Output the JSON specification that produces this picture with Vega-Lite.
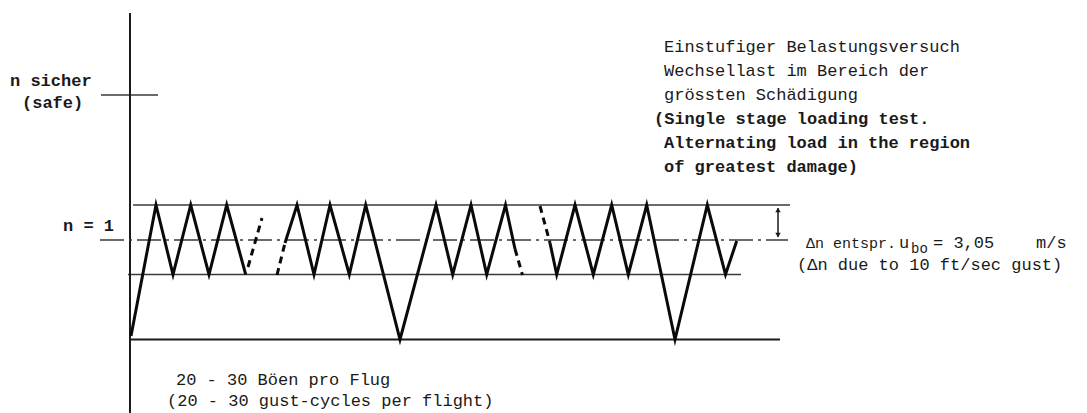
{
  "$schema": "https://vega.github.io/schema/vega-lite/v6.json",
  "width": 1087,
  "height": 413,
  "padding": 0,
  "autosize": {"type": "none"},
  "background": "white",
  "config": {"view": {"stroke": null}},
  "datasets": {
    "segs": [
      {"kind": "heavy", "x": 130, "y": 13, "x2": 130, "y2": 413},
      {"kind": "heavy", "x": 130, "y": 339.5, "x2": 780, "y2": 339.5},
      {"kind": "light", "x": 101, "y": 95, "x2": 158, "y2": 95},
      {"kind": "light", "x": 133, "y": 205, "x2": 790, "y2": 205},
      {"kind": "light", "x": 128, "y": 274.5, "x2": 741, "y2": 274.5},
      {"kind": "dashdot", "x": 100, "y": 240, "x2": 788, "y2": 240},
      {"kind": "dashed", "x": 248, "y": 267, "x2": 262, "y2": 218},
      {"kind": "dashed", "x": 277, "y": 275, "x2": 285, "y2": 243},
      {"kind": "dashed", "x": 515, "y": 249, "x2": 522.5, "y2": 275},
      {"kind": "dashed", "x": 540, "y": 206, "x2": 550, "y2": 243},
      {"kind": "arrow", "x": 778, "y": 208, "x2": 778, "y2": 237}
    ],
    "wave": [
      {"seg": "A", "i": 0, "x": 131, "y": 336},
      {"seg": "A", "i": 1, "x": 156, "y": 205},
      {"seg": "A", "i": 2, "x": 173, "y": 274.5},
      {"seg": "A", "i": 3, "x": 190.7, "y": 205},
      {"seg": "A", "i": 4, "x": 209, "y": 274.5},
      {"seg": "A", "i": 5, "x": 226.7, "y": 205},
      {"seg": "A", "i": 6, "x": 245.7, "y": 274.5},
      {"seg": "C", "i": 0, "x": 285, "y": 243},
      {"seg": "C", "i": 1, "x": 297, "y": 205},
      {"seg": "C", "i": 2, "x": 314, "y": 274.5},
      {"seg": "C", "i": 3, "x": 330, "y": 205},
      {"seg": "C", "i": 4, "x": 349.3, "y": 274.5},
      {"seg": "C", "i": 5, "x": 365.7, "y": 205},
      {"seg": "C", "i": 6, "x": 400, "y": 339.5},
      {"seg": "C", "i": 7, "x": 436, "y": 205},
      {"seg": "C", "i": 8, "x": 452.7, "y": 274.5},
      {"seg": "C", "i": 9, "x": 471, "y": 205},
      {"seg": "C", "i": 10, "x": 486.7, "y": 274.5},
      {"seg": "C", "i": 11, "x": 505.5, "y": 205},
      {"seg": "C", "i": 12, "x": 515, "y": 249},
      {"seg": "E", "i": 0, "x": 550, "y": 243},
      {"seg": "E", "i": 1, "x": 556.7, "y": 274.5},
      {"seg": "E", "i": 2, "x": 575, "y": 205},
      {"seg": "E", "i": 3, "x": 593.3, "y": 274.5},
      {"seg": "E", "i": 4, "x": 611.7, "y": 205},
      {"seg": "E", "i": 5, "x": 628.3, "y": 274.5},
      {"seg": "E", "i": 6, "x": 646.7, "y": 205},
      {"seg": "E", "i": 7, "x": 675, "y": 339.5},
      {"seg": "E", "i": 8, "x": 707.3, "y": 205},
      {"seg": "E", "i": 9, "x": 725.5, "y": 274.5},
      {"seg": "E", "i": 10, "x": 736.7, "y": 241}
    ],
    "heads": [
      {"dir": "up", "x": 778, "y": 210},
      {"dir": "down", "x": 778, "y": 235}
    ],
    "labels": [
      {"style": "bold", "x": 10, "y": 86, "text": "n sicher"},
      {"style": "bold", "x": 22, "y": 108, "text": "(safe)"},
      {"style": "bold", "x": 63, "y": 231, "text": "n = 1"},
      {"style": "normal", "x": 664, "y": 52, "text": "Einstufiger Belastungsversuch"},
      {"style": "normal", "x": 664, "y": 76, "text": "Wechsellast im Bereich der"},
      {"style": "normal", "x": 664, "y": 100, "text": "grössten Schädigung"},
      {"style": "bold", "x": 654, "y": 124, "text": "(Single stage loading test."},
      {"style": "bold", "x": 664, "y": 148, "text": "Alternating load in the region"},
      {"style": "bold", "x": 664, "y": 172, "text": "of greatest damage)"},
      {"style": "small", "x": 806, "y": 248, "text": "Δn entspr."},
      {"style": "normal", "x": 899, "y": 248, "text": "u"},
      {"style": "sub", "x": 911, "y": 253, "text": "bo"},
      {"style": "normal", "x": 933, "y": 248, "text": "= 3,05"},
      {"style": "normal", "x": 1036, "y": 248, "text": "m/s"},
      {"style": "normal", "x": 797, "y": 270, "text": "(Δn due to 10 ft/sec gust)"},
      {"style": "normal", "x": 176, "y": 385, "text": "20 - 30 Böen pro Flug"},
      {"style": "normal", "x": 167, "y": 406, "text": "(20 - 30 gust-cycles per flight)"}
    ]
  },
  "encoding": {
    "x": {"field": "x", "type": "quantitative", "scale": {"domain": [0, 1087], "nice": false, "zero": false}, "axis": null},
    "y": {"field": "y", "type": "quantitative", "scale": {"domain": [413, 0], "nice": false, "zero": false}, "axis": null}
  },
  "layer": [
    {
      "data": {"name": "segs"},
      "transform": [{"filter": "datum.kind === 'light'"}],
      "mark": {"type": "rule", "color": "#3a3a3a", "strokeWidth": 1.5},
      "encoding": {"x2": {"field": "x2"}, "y2": {"field": "y2"}}
    },
    {
      "data": {"name": "segs"},
      "transform": [{"filter": "datum.kind === 'heavy'"}],
      "mark": {"type": "rule", "color": "#1a1a1a", "strokeWidth": 2},
      "encoding": {"x2": {"field": "x2"}, "y2": {"field": "y2"}}
    },
    {
      "data": {"name": "segs"},
      "transform": [{"filter": "datum.kind === 'dashdot'"}],
      "mark": {"type": "rule", "color": "#3a3a3a", "strokeWidth": 1.5, "strokeDash": [24, 5, 3, 5]},
      "encoding": {"x2": {"field": "x2"}, "y2": {"field": "y2"}}
    },
    {
      "data": {"name": "wave"},
      "mark": {"type": "line", "color": "#0a0a0a", "strokeWidth": 3, "strokeJoin": "miter", "strokeMiterLimit": 10},
      "encoding": {
        "detail": {"field": "seg", "type": "nominal"},
        "order": {"field": "i", "type": "quantitative"}
      }
    },
    {
      "data": {"name": "segs"},
      "transform": [{"filter": "datum.kind === 'dashed'"}],
      "mark": {"type": "rule", "color": "#0a0a0a", "strokeWidth": 3, "strokeDash": [7, 5]},
      "encoding": {"x2": {"field": "x2"}, "y2": {"field": "y2"}}
    },
    {
      "data": {"name": "segs"},
      "transform": [{"filter": "datum.kind === 'arrow'"}],
      "mark": {"type": "rule", "color": "#1a1a1a", "strokeWidth": 1.5},
      "encoding": {"x2": {"field": "x2"}, "y2": {"field": "y2"}}
    },
    {
      "data": {"name": "heads"},
      "transform": [{"filter": "datum.dir === 'up'"}],
      "mark": {"type": "point", "shape": "triangle-up", "filled": true, "color": "#1a1a1a", "size": 30, "opacity": 1}
    },
    {
      "data": {"name": "heads"},
      "transform": [{"filter": "datum.dir === 'down'"}],
      "mark": {"type": "point", "shape": "triangle-down", "filled": true, "color": "#1a1a1a", "size": 30, "opacity": 1}
    },
    {
      "data": {"name": "labels"},
      "transform": [{"filter": "datum.style === 'normal'"}],
      "mark": {"type": "text", "align": "left", "baseline": "alphabetic", "font": "Liberation Mono", "fontSize": 17, "color": "#1a1a1a"},
      "encoding": {"text": {"field": "text", "type": "nominal"}}
    },
    {
      "data": {"name": "labels"},
      "transform": [{"filter": "datum.style === 'small'"}],
      "mark": {"type": "text", "align": "left", "baseline": "alphabetic", "font": "Liberation Mono", "fontSize": 15, "color": "#1a1a1a"},
      "encoding": {"text": {"field": "text", "type": "nominal"}}
    },
    {
      "data": {"name": "labels"},
      "transform": [{"filter": "datum.style === 'sub'"}],
      "mark": {"type": "text", "align": "left", "baseline": "alphabetic", "font": "Liberation Mono", "fontSize": 14, "color": "#1a1a1a"},
      "encoding": {"text": {"field": "text", "type": "nominal"}}
    },
    {
      "data": {"name": "labels"},
      "transform": [{"filter": "datum.style === 'bold'"}],
      "mark": {"type": "text", "align": "left", "baseline": "alphabetic", "font": "Liberation Mono", "fontSize": 17, "fontWeight": "bold", "color": "#1a1a1a"},
      "encoding": {"text": {"field": "text", "type": "nominal"}}
    }
  ]
}
